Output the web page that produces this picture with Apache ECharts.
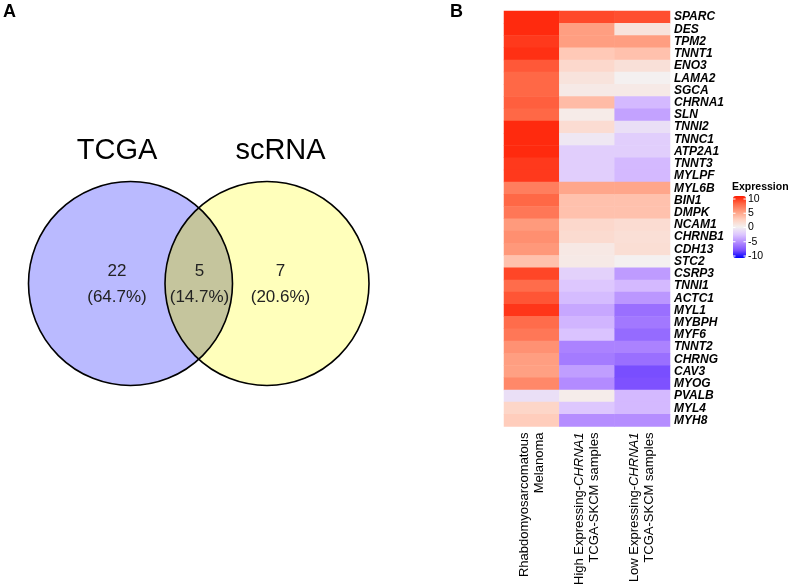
<!DOCTYPE html>
<html>
<head>
<meta charset="utf-8">
<script src="https://cdn.jsdelivr.net/npm/echarts@6/dist/echarts.min.js"></script>
<style>html,body{margin:0;padding:0;background:#fff;}#c{width:790px;height:588px;}</style>
</head>
<body>
<div id="c"></div>
<script>
// ---------- data ----------
var vennSets = ['TCGA', 'scRNA'];
var vennCounts = [22, 5, 7];
var vennPercents = ['64.7%', '14.7%', '20.6%'];

var genes = ['SPARC','DES','TPM2','TNNT1','ENO3','LAMA2','SGCA','CHRNA1','SLN','TNNI2','TNNC1','ATP2A1','TNNT3','MYLPF','MYL6B','BIN1','DMPK','NCAM1','CHRNB1','CDH13','STC2','CSRP3','TNNI1','ACTC1','MYL1','MYBPH','MYF6','TNNT2','CHRNG','CAV3','MYOG','PVALB','MYL4','MYH8'];
var sampleGroups = ['Rhabdomyosarcomatous\nMelanoma', 'High Expressing-{i|CHRNA1}\nTCGA-SKCM samples', 'Low Expressing-{i|CHRNA1}\nTCGA-SKCM samples'];
var rhabdo   = [9.5,9.5,9.0,9.3,8.0,7.5,7.5,7.8,7.5,9.5,9.5,9.5,9.0,9.0,6.5,7.5,6.8,5.2,5.7,5.3,3.2,8.6,7.3,8.1,9.1,7.3,6.8,5.6,5.0,4.9,6.0,-1.0,2.0,2.6];
var highExpr = [8.5,5.0,5.0,2.8,1.8,1.0,0.5,3.5,0.4,1.5,-0.5,-2.0,-2.0,-2.0,4.6,3.2,3.2,1.8,1.6,0.6,0.5,-1.8,-2.4,-2.9,-3.8,-3.2,-2.6,-5.4,-5.7,-4.2,-5.0,0.3,-2.4,-4.9];
var lowExpr  = [8.3,1.0,5.0,3.2,1.2,0.0,0.5,-3.0,-4.0,-1.0,-2.0,-2.0,-3.0,-3.0,4.6,3.2,3.2,1.5,1.3,1.4,0.0,-4.3,-3.0,-4.5,-6.2,-5.8,-6.4,-5.4,-6.2,-7.6,-7.5,-3.0,-3.0,-4.9];
var legendTicks = [10, 5, 0, -5, -10];

// ---------- build ----------
var cols = [rhabdo, highExpr, lowExpr];
var heat = [];
cols.forEach(function (arr, ci) {
  arr.forEach(function (v, gi) { heat.push([ci, gi, v]); });
});

var FONT = 'Liberation Sans, Arial, Helvetica, sans-serif';
var chart = echarts.init(document.getElementById('c'));

// Venn layout (pixels)
var cy = 283.5, r = 102, cxL = 130.5, cxR = 267;
var d = cxR - cxL, mx = (cxL + cxR) / 2, h = Math.sqrt(r * r - (d / 2) * (d / 2));
var th = Math.atan2(h, d / 2);
var lensPts = [];
var N = 60, k;
for (k = 0; k <= N; k++) {
  var a = -th + 2 * th * k / N;
  lensPts.push([cxL + r * Math.cos(a), cy + r * Math.sin(a)]);
}
for (k = 0; k <= N; k++) {
  var b = Math.PI - th + 2 * th * k / N;
  lensPts.push([cxR + r * Math.cos(b), cy + r * Math.sin(b)]);
}

var graphics = [
  {type: 'text', x: 3, y: 3, style: {text: 'A', font: 'bold 18px ' + FONT, fill: '#000'}},
  {type: 'text', x: 450, y: 3, style: {text: 'B', font: 'bold 18px ' + FONT, fill: '#000'}},
  {type: 'circle', shape: {cx: cxL, cy: cy, r: r}, style: {fill: '#babaff'}},
  {type: 'circle', shape: {cx: cxR, cy: cy, r: r}, style: {fill: '#ffffbb'}},
  {type: 'polygon', shape: {points: lensPts}, style: {fill: '#c5c59d'}},
  {type: 'circle', shape: {cx: cxL, cy: cy, r: r}, style: {fill: 'none', stroke: '#000', lineWidth: 1.6}},
  {type: 'circle', shape: {cx: cxR, cy: cy, r: r}, style: {fill: 'none', stroke: '#000', lineWidth: 1.6}},
  {type: 'text', x: 117, y: 151, style: {text: vennSets[0], font: '29px ' + FONT, fill: '#000', textAlign: 'center', textVerticalAlign: 'middle'}},
  {type: 'text', x: 280.5, y: 151, style: {text: vennSets[1], font: '29px ' + FONT, fill: '#000', textAlign: 'center', textVerticalAlign: 'middle'}}
];
var regionX = [117, 199.5, 280.5];
vennCounts.forEach(function (c, i) {
  graphics.push({type: 'text', x: regionX[i], y: 271, style: {text: String(c), font: '17px ' + FONT, fill: '#222', textAlign: 'center', textVerticalAlign: 'middle'}});
  graphics.push({type: 'text', x: regionX[i], y: 297.5, style: {text: '(' + vennPercents[i] + ')', font: '17px ' + FONT, fill: '#222', textAlign: 'center', textVerticalAlign: 'middle'}});
});

// legend
var barTop = 196, barH = 62, barLeft = 733, barW = 13;
graphics.push({type: 'text', x: 732, y: 182, style: {text: 'Expression', font: 'bold 10.5px ' + FONT, fill: '#000'}});
legendTicks.forEach(function (t) {
  var y = 199 + (10 - t) / 20 * 57;
  graphics.push({type: 'text', x: 748, y: y, style: {text: String(t), font: '10.5px ' + FONT, fill: '#000', textVerticalAlign: 'middle'}});
  graphics.push({type: 'line', shape: {x1: barLeft, y1: y, x2: barLeft + 2.5, y2: y}, style: {stroke: '#fff', lineWidth: 1}, z: 10});
  graphics.push({type: 'line', shape: {x1: barLeft + barW - 2.5, y1: y, x2: barLeft + barW, y2: y}, style: {stroke: '#fff', lineWidth: 1}, z: 10});
});

chart.setOption({
  animation: false,
  backgroundColor: '#fff',
  grid: {left: 504, right: 120, top: 11, bottom: 157},
  xAxis: {
    type: 'category', data: sampleGroups,
    axisLine: {show: false}, axisTick: {show: false}, splitLine: {show: false},
    axisLabel: {rotate: 90, interval: 0, margin: 6, fontSize: 13, lineHeight: 15, color: '#000', fontFamily: FONT,
      rich: {i: {fontStyle: 'italic', fontSize: 13, lineHeight: 15, color: '#000', fontFamily: FONT}}}
  },
  yAxis: {
    type: 'category', data: genes, inverse: true, position: 'right',
    axisLine: {show: false}, axisTick: {show: false}, splitLine: {show: false},
    axisLabel: {interval: 0, margin: 4, fontSize: 12, fontWeight: 'bold', fontStyle: 'italic', color: '#000', fontFamily: FONT}
  },
  visualMap: {
    type: 'continuous', min: -10, max: 10, calculable: false, show: true,
    left: barLeft, top: barTop, itemWidth: barW, itemHeight: barH, padding: 0,
    inRange: {color: ['#0000ff', '#7e51ff', '#b38bff', '#dcc5ff', '#f4f0f0', '#ffcfbe', '#ff9e81', '#ff6846', '#ff1a00']}
  },
  graphic: {elements: graphics},
  series: [{
    type: 'heatmap', data: heat,
    itemStyle: {borderWidth: 0},
    emphasis: {disabled: true}
  }]
});
</script>
</body>
</html>
